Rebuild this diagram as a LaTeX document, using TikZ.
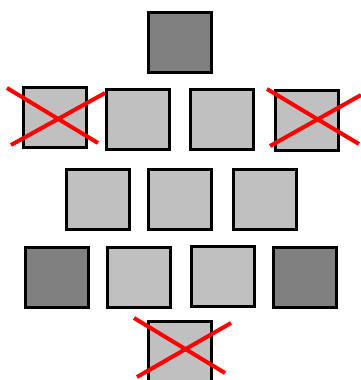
\documentclass[tikz,border=0pt]{standalone}
\definecolor{darkbox}{HTML}{808080}
\definecolor{lightbox}{HTML}{C0C0C0}
\begin{document}
\begin{tikzpicture}[x=1pt,y=-1pt,
  sq/.style={draw=black,line width=3pt,minimum width=63pt,minimum height=60pt,inner sep=0pt,outer sep=0pt},
  dk/.style={sq,fill=darkbox},
  lt/.style={sq,fill=lightbox},
  cross/.style={draw=red,line width=4pt}]
\useasboundingbox (0,0) rectangle (361,380);
\clip (0,0) rectangle (361,380);
\node[dk] (t) at (180,42.5) {};
\node[lt] (a1) at (55,117.5) {};
\node[lt] (a2) at (138,119) {};
\node[lt] (a3) at (222,119) {};
\node[lt] (a4) at (306.5,120) {};
\node[lt] (b1) at (97.5,199) {};
\node[lt] (b2) at (180,199) {};
\node[lt] (b3) at (265,199.5) {};
\node[dk] (c1) at (57,277) {};
\node[lt] (c2) at (138.5,277) {};
\node[lt] (c3) at (223,276) {};
\node[dk] (c4) at (305,277.5) {};
\node[lt] (d1) at (180,351.5) {};
% crosses
\coordinate (x1a) at (7,88);   \coordinate (x1b) at (98,143);
\coordinate (x1c) at (11,145); \coordinate (x1d) at (105,93);
\draw[cross] (x1a) -- (x1b);
\draw[cross] (x1c) -- (x1d);
\coordinate (x2a) at (267,89);  \coordinate (x2b) at (359,144);
\coordinate (x2c) at (270,146); \coordinate (x2d) at (361,95);
\draw[cross] (x2a) -- (x2b);
\draw[cross] (x2c) -- (x2d);
\coordinate (x3a) at (134,318); \coordinate (x3b) at (225,373);
\coordinate (x3c) at (137,377); \coordinate (x3d) at (231,323);
\draw[cross] (x3a) -- (x3b);
\draw[cross] (x3c) -- (x3d);
\end{tikzpicture}
\end{document}
